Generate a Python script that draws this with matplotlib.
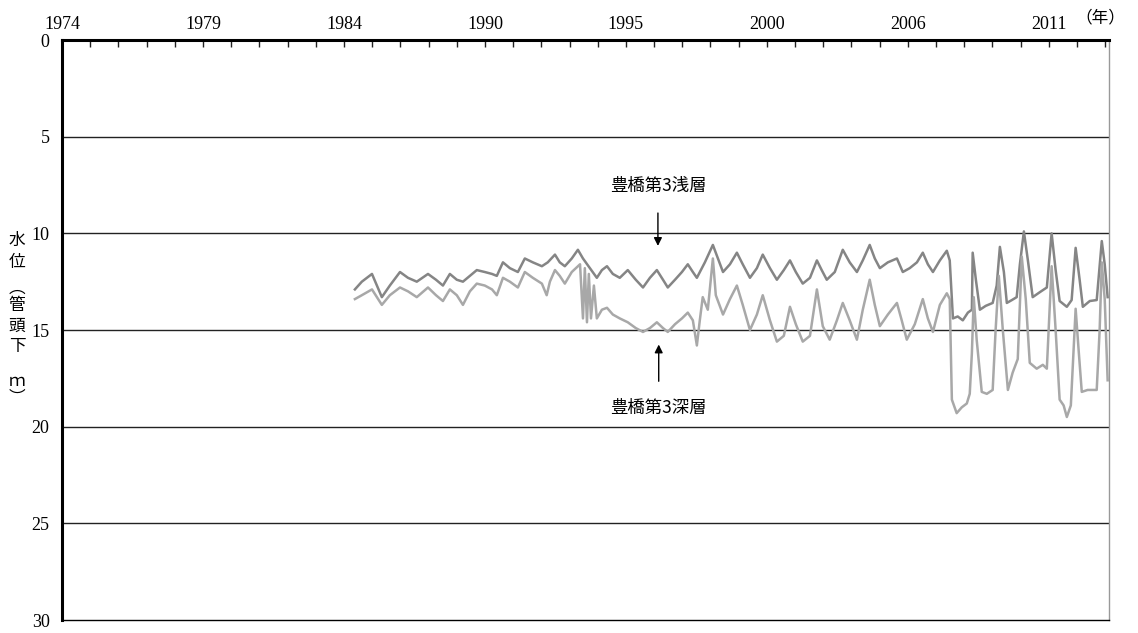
import numpy as np
import matplotlib
matplotlib.use("Agg")
import matplotlib.pyplot as plt

plt.rcParams['font.family'] = ['Liberation Serif', 'Noto Sans CJK JP', 'DejaVu Sans']

# ── データ ──
shallow_year = [1985.33, 1985.59, 1985.97, 1986.34, 1986.64, 1987.02, 1987.32, 1987.65, 1988.07, 1988.37,
                1988.63, 1988.89, 1989.15, 1989.38, 1989.64, 1989.90, 1990.20, 1990.47, 1990.65, 1990.88,
                1991.14, 1991.44, 1991.70, 1992.00, 1992.34, 1992.56, 1992.83, 1993.01, 1993.20, 1993.46,
                1993.69, 1993.88, 1994.14, 1994.40, 1994.59, 1994.78, 1995.00, 1995.26, 1995.56, 1995.86,
                1996.13, 1996.39, 1996.65, 1996.88, 1997.06, 1997.33, 1997.59, 1997.81, 1998.00, 1998.15,
                1998.45, 1998.75, 1998.94, 1999.13, 1999.39, 1999.65, 1999.87, 2000.14, 2000.40, 2000.62,
                2000.89, 2001.15, 2001.41, 2001.64, 2001.86, 2002.12, 2002.39, 2002.65, 2002.83, 2003.02,
                2003.32, 2003.62, 2003.88, 2004.15, 2004.37, 2004.63, 2004.82, 2005.01, 2005.31, 2005.65,
                2005.87, 2006.13, 2006.40, 2006.62, 2006.81, 2007.00, 2007.26, 2007.52, 2007.63, 2007.75,
                2007.93, 2008.12, 2008.31, 2008.46, 2008.49, 2008.61, 2008.76, 2008.98, 2009.24, 2009.39,
                2009.51, 2009.66, 2009.77, 2009.96, 2010.14, 2010.26, 2010.41, 2010.56, 2010.74, 2011.00,
                2011.27, 2011.45, 2011.60, 2011.75, 2012.02, 2012.20, 2012.35, 2012.50, 2012.62, 2012.88,
                2013.14, 2013.33, 2013.44, 2013.55]
shallow_level = [12.9, 12.5, 12.1, 13.3, 12.7, 12.0, 12.3, 12.5, 12.1, 12.4,
                 12.7, 12.1, 12.4, 12.5, 12.2, 11.9, 12.0, 12.1, 12.2, 11.5,
                 11.8, 12.0, 11.3, 11.5, 11.7, 11.5, 11.1, 11.5, 11.7, 11.3,
                 10.85, 11.3, 11.8, 12.3, 11.9, 11.7, 12.1, 12.3, 11.9, 12.4,
                 12.8, 12.3, 11.9, 12.4, 12.8, 12.4, 12.0, 11.6, 12.0, 12.3,
                 11.5, 10.6, 11.3, 12.0, 11.6, 11.0, 11.6, 12.3, 11.8, 11.1,
                 11.8, 12.4, 11.9, 11.4, 12.0, 12.6, 12.3, 11.4, 11.9, 12.4,
                 12.0, 10.85, 11.5, 12.0, 11.4, 10.6, 11.3, 11.8, 11.5, 11.3,
                 12.0, 11.8, 11.5, 11.0, 11.6, 12.0, 11.4, 10.9, 11.4, 14.4,
                 14.3, 14.5, 14.1, 13.95, 11.0, 12.4, 13.95, 13.75, 13.6, 12.7,
                 10.7, 12.0, 13.6, 13.45, 13.3, 11.6, 9.9, 11.4, 13.3, 13.05,
                 12.8, 10.0, 11.9, 13.5, 13.8, 13.45, 10.75, 12.4, 13.8, 13.5,
                 13.45, 10.4, 11.6, 13.3]

deep_year = [1985.33, 1985.59, 1985.97, 1986.34, 1986.64, 1987.02, 1987.32, 1987.65, 1988.07, 1988.37,
             1988.63, 1988.89, 1989.15, 1989.38, 1989.64, 1989.90, 1990.20, 1990.47, 1990.65, 1990.88,
             1991.14, 1991.44, 1991.70, 1992.00, 1992.34, 1992.52, 1992.64, 1992.83, 1993.01, 1993.20,
             1993.46, 1993.69, 1993.77, 1993.88, 1993.95, 1994.03, 1994.10, 1994.18, 1994.29, 1994.40,
             1994.59, 1994.78, 1995.00, 1995.26, 1995.56, 1995.86, 1996.13, 1996.39, 1996.65, 1996.88,
             1997.06, 1997.33, 1997.59, 1997.81, 1998.00, 1998.15, 1998.26, 1998.37, 1998.56, 1998.75,
             1998.86, 1999.13, 1999.39, 1999.65, 1999.87, 2000.14, 2000.40, 2000.62, 2000.89, 2001.15,
             2001.41, 2001.64, 2001.86, 2002.12, 2002.39, 2002.65, 2002.87, 2003.13, 2003.40, 2003.62,
             2003.88, 2004.15, 2004.37, 2004.63, 2004.82, 2005.01, 2005.31, 2005.65, 2005.83, 2006.02,
             2006.32, 2006.62, 2006.81, 2007.00, 2007.26, 2007.52, 2007.63, 2007.71, 2007.89, 2008.08,
             2008.27, 2008.38, 2008.46, 2008.53, 2008.64, 2008.83, 2009.02, 2009.24, 2009.35, 2009.47,
             2009.62, 2009.81, 2009.99, 2010.18, 2010.33, 2010.48, 2010.63, 2010.89, 2011.12, 2011.27,
             2011.45, 2011.60, 2011.75, 2011.90, 2012.02, 2012.17, 2012.35, 2012.46, 2012.58, 2012.80,
             2013.14, 2013.25, 2013.33, 2013.44, 2013.55]
deep_level = [13.4, 13.2, 12.9, 13.7, 13.2, 12.8, 13.0, 13.3, 12.8, 13.2,
              13.5, 12.9, 13.2, 13.7, 13.0, 12.6, 12.7, 12.9, 13.2, 12.3,
              12.5, 12.8, 12.0, 12.3, 12.6, 13.2, 12.5, 11.9, 12.2, 12.6,
              12.0, 11.7, 11.6, 14.4, 11.8, 14.6, 12.1, 14.4, 12.7, 14.4,
              13.95, 13.85, 14.2, 14.4, 14.6, 14.9, 15.1, 14.9, 14.6, 14.9,
              15.1, 14.7, 14.4, 14.1, 14.5, 15.8, 14.5, 13.3, 13.95, 11.3,
              13.2, 14.2, 13.4, 12.7, 13.7, 15.0, 14.2, 13.2, 14.5, 15.6,
              15.3, 13.8, 14.7, 15.6, 15.3, 12.9, 14.8, 15.5, 14.5, 13.6,
              14.5, 15.5, 13.95, 12.4, 13.7, 14.8, 14.2, 13.6, 14.5, 15.5,
              14.7, 13.4, 14.4, 15.1, 13.7, 13.1, 13.4, 18.6, 19.3, 19.0,
              18.8, 18.3, 16.2, 13.3, 15.5, 18.2, 18.3, 18.1, 15.0, 12.2,
              15.0, 18.1, 17.2, 16.5, 11.2, 13.4, 16.7, 17.0, 16.8, 17.0,
              11.7, 15.0, 18.6, 18.9, 19.5, 18.9, 13.9, 16.0, 18.2, 18.1,
              18.1, 15.0, 11.5, 13.4, 17.6]

year_labels = ["1974", "1979", "1984", "1990", "1995", "2000", "2006", "2011"]
depth_ticks = [0, 5, 10, 15, 20, 25, 30]

# ── 軸の設定 ──
x_start = 1974.35
tick_step = 1.057
x_end = 2013.6

fig = plt.figure(figsize=(11.38, 6.33), dpi=100)
ax = fig.add_axes([0.0545, 0.0205, 0.92, 0.9163])

ax.plot(shallow_year, shallow_level, color='#858585', linewidth=1.8)
ax.plot(deep_year, deep_level, color='#a8a8a8', linewidth=1.8)

ax.set_xlim(x_start, x_end)
ax.set_ylim(30, 0)

for d in depth_ticks[1:-1]:
    ax.axhline(d, color='#222222', linewidth=1.0, zorder=0)

ax.xaxis.set_ticks_position('top')
ax.xaxis.set_label_position('top')
major = [x_start + 5 * tick_step * i for i in range(len(year_labels))]
minor = np.arange(x_start, x_end, tick_step)
ax.set_xticks(major)
ax.set_xticklabels(year_labels, fontsize=13)
ax.set_xticks(minor, minor=True)
ax.tick_params(axis='x', which='both', direction='in', length=5, width=1, pad=5, colors='#222222')
ax.tick_params(axis='x', labelcolor='black')

ax.set_yticks(depth_ticks)
ax.set_yticklabels([str(d) for d in depth_ticks], fontsize=13)
ax.tick_params(axis='y', length=0, pad=9)

ax.spines['top'].set_linewidth(2.2)
ax.spines['left'].set_linewidth(2.2)
ax.spines['right'].set_color('#999999')
ax.spines['right'].set_linewidth(1)
ax.spines['bottom'].set_linewidth(1)

cjk = ['Noto Sans CJK JP', 'DejaVu Sans']
fig.text(0.967, 0.972, "（年）", fontsize=12, family=cjk, ha='center', va='center')

# 縦書きの軸ラベル
label_chars = ["水", "位", "︵", "管", "頭", "下", "ｍ", "︶"]
label_y = [240, 262, 288, 305, 326, 347, 382, 398]
for ch, py in zip(label_chars, label_y):
    fig.text(17 / 1138, 1 - py / 633, ch, fontsize=12, family=cjk, ha='center', va='center')

# 注記
ax.annotate("豊橋第3浅層", xy=(1996.69, 10.65), xytext=(1996.69, 7.55),
            ha='center', va='center', fontsize=12.5, family=cjk,
            arrowprops=dict(arrowstyle='-|>', color='black', lw=1, mutation_scale=12, shrinkA=11, shrinkB=0))
ax.annotate("豊橋第3深層", xy=(1996.72, 15.75), xytext=(1996.72, 19.05),
            ha='center', va='center', fontsize=12.5, family=cjk,
            arrowprops=dict(arrowstyle='-|>', color='black', lw=1, mutation_scale=12, shrinkA=11, shrinkB=0))

plt.savefig("out.png", dpi=100)
